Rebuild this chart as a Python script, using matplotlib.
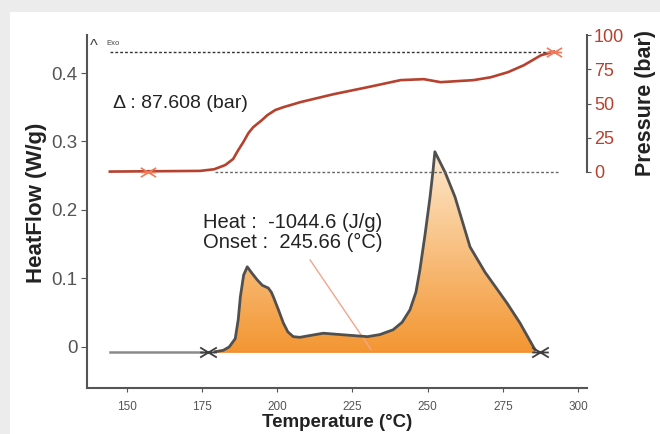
import matplotlib
matplotlib.use('Agg')
import matplotlib.pyplot as plt
import numpy as np
from matplotlib.path import Path
from matplotlib.patches import Rectangle

plt.rcParams['font.family'] = ['Liberation Sans', 'DejaVu Sans']

# heat flow curve (W/g) vs temperature (C)
hf_temp = [179.3, 182.0, 184.0, 186.0, 187.0, 187.7, 188.8, 190.0, 191.5, 193.3, 195.0,
           197.0, 198.0, 198.7, 200.3, 202.0, 203.5, 205.3, 207.5, 210.0, 215.3, 221.0,
           230.0, 234.1, 238.5, 241.5, 244.1, 246.1, 247.4, 249.1, 250.8, 251.8, 252.4,
           255.8, 259.1, 264.1, 269.1, 276.4, 280.7, 285.7]
hf_val = [-0.007, -0.005, 0.000, 0.012, 0.040, 0.073, 0.105, 0.117, 0.108, 0.098, 0.090,
          0.086, 0.080, 0.073, 0.055, 0.035, 0.022, 0.015, 0.014, 0.016, 0.020, 0.018,
          0.015, 0.018, 0.025, 0.036, 0.054, 0.080, 0.112, 0.163, 0.219, 0.258, 0.285,
          0.255, 0.219, 0.146, 0.109, 0.064, 0.035, -0.004]
hf_base = -0.007
pre_temp = [144.3, 175.0]
end_temp = 287.5

# pressure (bar) vs temperature (C)
p_temp = [144.3, 174.3, 179.0, 182.7, 185.3, 187.0, 188.7, 190.4, 192.0, 194.9, 196.7,
          199.3, 202.0, 207.7, 218.7, 230.0, 241.0, 248.7, 254.3, 265.3, 271.0, 276.7,
          282.0, 287.7, 292.0]
p_val = [0.3, 0.8, 2.0, 5.1, 9.5, 16.0, 21.9, 28.5, 32.8, 38.0, 41.6,
         45.3, 47.4, 51.1, 56.9, 62.0, 67.2, 67.9, 65.7, 67.2, 69.3, 73.0,
         78.1, 85.4, 88.0]
p_delta = 87.608
p_mark = [157.0, 292.0]

heat = -1044.6
onset = 245.66

fig = plt.figure(figsize=(6.6, 4.34), dpi=100, facecolor='#ececec')
fig.patches.append(Rectangle((10 / 660, 0), 1, 1 - 12 / 434, transform=fig.transFigure,
                             facecolor='white', edgecolor='none', zorder=-10))

rect = [87 / 660, 1 - 388 / 434, 500 / 660, 353 / 434]
ax = fig.add_axes(rect)
ax.patch.set_alpha(0)

# right axis (pressure) on the same rectangle
ax2 = fig.add_axes(rect, sharex=ax)
ax2.patch.set_alpha(0)
ax2.set_ylim(-158.0, 100.2)

# heat flow fill with vertical gradient
xs = np.array(hf_temp)
ys = np.array(hf_val)
poly = ax.fill_between(xs, ys, hf_base, color='none', lw=0)
grad = np.linspace(0, 1, 256).reshape(-1, 1)
cmap = matplotlib.colors.LinearSegmentedColormap.from_list('g', ['#f39632', '#fde8cc'])
img = ax.imshow(grad, cmap=cmap, origin='lower', aspect='auto',
                extent=[xs.min(), xs.max(), hf_base, max(hf_val)], zorder=1)
img.set_clip_path(poly.get_paths()[0], transform=ax.transData)
ax.set_xlim(136.7, 303.0)
ax.set_ylim(-0.06, 0.4555)
ax.plot(hf_temp, hf_val, color='#505050', lw=2, zorder=3, solid_joinstyle='round')
ax.plot([hf_temp[0], hf_temp[-1]], [hf_base, hf_base], color='#f08a2a', lw=1.2, zorder=2)
ax.plot(pre_temp, [hf_base, hf_base], color='#8a8a8a', lw=1.8, zorder=3)

bowtie = Path([(-1, 0.6), (0, 0), (-1, -0.6), (1, 0.6), (0, 0), (1, -0.6), (-1, 0), (1, 0)],
              [Path.MOVETO, Path.LINETO, Path.LINETO, Path.MOVETO, Path.LINETO, Path.LINETO,
               Path.MOVETO, Path.LINETO])
ax.plot([pre_temp[1] + 1.8, end_temp], [hf_base, hf_base], ls='none', marker=bowtie,
        ms=12, mec='#404040', mfc='none', mew=1.3, zorder=4)

# leader line for onset
ax.plot([210.9, 231.2], [0.127, -0.004], color='#f2a589', lw=1, zorder=2)

ax.text(175.3, 0.182, f'Heat :  {heat} (J/g)', fontsize=14.5, color='#222222', va='center')
ax.text(175.3, 0.152, f'Onset :  {onset} (\u00b0C)', fontsize=14.5, color='#222222', va='center')

# pressure
ax2.plot(p_temp, p_val, color='#b5412e', lw=1.9, zorder=3, solid_joinstyle='round')
ax2.plot(p_mark, [0.3, 88.0], ls='none', marker=bowtie, ms=11, mec='#f07a5a', mfc='none',
         mew=1.2, zorder=4)
ax2.plot([144.3, 293.3], [p_delta, p_delta], color='#333333', lw=1, ls=(0, (2, 1.5)))
ax2.plot([179.3, 293.3], [0, 0], color='#666666', lw=1, ls=(0, (2, 1.5)))
ax.text(145.3, 0.356, f'\u0394 : {p_delta} (bar)', fontsize=14, color='#222222', va='center')
ax.text(137.8, 0.450, '^', fontsize=12, color='#444444', va='top')
ax.text(143.3, 0.443, 'Exo', fontsize=5.5, color='#444444', va='center')

# axes styling
for s in ['top', 'right']:
    ax.spines[s].set_visible(False)
for s in ['top', 'left', 'bottom']:
    ax2.spines[s].set_visible(False)
ax.spines['left'].set_color('#555555')
ax.spines['bottom'].set_color('#555555')
ax.spines['left'].set_linewidth(1.5)
ax.spines['bottom'].set_linewidth(1.5)
ax2.spines['right'].set_bounds(0, 100)
ax2.spines['right'].set_color('#555555')
ax2.spines['right'].set_linewidth(1.5)

ax.set_xticks([150, 175, 200, 225, 250, 275, 300])
ax.set_yticks([0, 0.1, 0.2, 0.3, 0.4])
ax.set_yticklabels(['0', '0.1', '0.2', '0.3', '0.4'])
ax.tick_params(axis='x', labelsize=8.5, colors='#555555', length=3, pad=6)
ax.tick_params(axis='y', labelsize=13.5, colors='#555555', length=4, pad=3)
ax2.yaxis.tick_right()
ax2.yaxis.set_label_position('right')
ax2.set_yticks([0, 25, 50, 75, 100])
ax2.tick_params(axis='y', labelsize=13, colors='#555555', labelcolor='#b5412e', length=3, pad=2)
ax2.tick_params(axis='x', bottom=False, labelbottom=False)

ax.set_ylabel('HeatFlow (W/g)', fontsize=16, fontweight='bold', color='#222222', labelpad=6)
ax.yaxis.set_label_coords(-40 / 500, (388 - 203) / 353)
ax.set_xlabel('Temperature (\u00b0C)', fontsize=13.5, fontweight='bold', color='#222222', labelpad=1)
ax2.set_ylabel('Pressure (bar)', fontsize=15.5, fontweight='bold', color='#222222', labelpad=6)
ax2.yaxis.set_label_coords(1 + 48 / 500, (388 - 103) / 353)

fig.savefig('out.png', dpi=100)
